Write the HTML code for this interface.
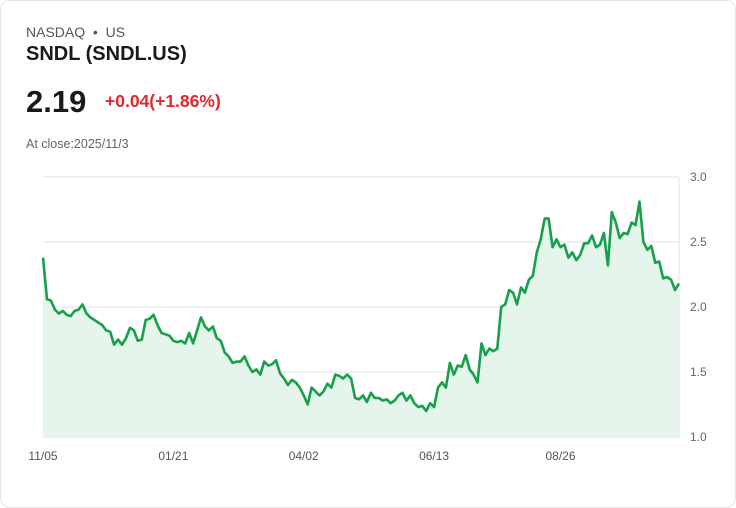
<!DOCTYPE html>
<html><head><meta charset="utf-8">
<style>
body{margin:0;width:736px;height:508px;background:#fff;font-family:"Liberation Sans",sans-serif;overflow:hidden}
.card{position:absolute;left:0;top:0;width:734px;height:506px;border:1px solid #e3e6ea;border-radius:10px;background:#fff}
.t{position:absolute;white-space:nowrap}
</style></head><body>
<div class="card">
<div class="t" style="left:25px;top:23px;font-size:14px;color:#555">NASDAQ &nbsp;•&nbsp; US</div>
<div class="t" style="left:25px;top:42px;font-size:20px;font-weight:bold;color:#1a1a1a">SNDL (SNDL.US)</div>
<div class="t" style="left:25px;top:83px;font-size:31px;font-weight:bold;color:#1a1a1a">2.19</div>
<div class="t" style="left:104px;top:90px;font-size:17.5px;font-weight:bold;color:#e0282e">+0.04(+1.86%)</div>
<div class="t" style="left:25px;top:136px;font-size:12.5px;color:#666">At close:2025/11/3</div>
<svg id="chart" width="736" height="508" style="position:absolute;left:-1px;top:-1px"></svg>
</div>
<script>
const values=[2.38,2.06,2.05,1.98,1.95,1.97,1.94,1.93,1.97,1.98,2.02,1.95,1.92,1.90,1.88,1.86,1.82,1.81,1.71,1.75,1.71,1.76,1.84,1.82,1.74,1.75,1.90,1.91,1.94,1.86,1.80,1.79,1.78,1.74,1.73,1.74,1.72,1.80,1.72,1.82,1.92,1.85,1.82,1.85,1.76,1.74,1.65,1.62,1.57,1.58,1.58,1.62,1.55,1.50,1.52,1.48,1.58,1.55,1.56,1.59,1.49,1.45,1.40,1.44,1.42,1.38,1.32,1.25,1.38,1.35,1.32,1.35,1.41,1.38,1.48,1.47,1.45,1.48,
1.45,1.30,1.29,1.32,1.27,1.34,1.30,1.30,1.28,1.29,1.26,1.28,1.32,1.34,1.28,1.32,1.26,1.23,1.24,1.20,1.26,1.23,1.38,1.42,1.38,1.57,1.48,1.55,1.54,1.63,1.52,1.48,1.42,1.72,1.63,1.68,1.66,1.68,2.00,2.02,2.13,2.11,2.02,2.15,2.11,2.21,2.24,2.42,2.52,2.68,2.68,2.46,2.52,2.46,2.48,2.38,2.42,2.36,2.40,2.49,2.49,2.55,2.46,2.48,2.57,2.32,2.73,2.65,2.53,2.57,2.56,2.65,2.63,2.81,2.50,2.44,2.47,2.34,2.35,2.22,2.23,2.21,2.13,2.18];
const yTicks=[1.0,1.5,2.0,2.5,3.0];
const xLabels=["11/05","01/21","04/02","06/13","08/26"];
const xLabelIdx=[0,33,66,99,131];
const NS="http://www.w3.org/2000/svg";
const svg=document.getElementById('chart');
const L=43,R=679,T=177,B=437,ymin=1,ymax=3;
const xs=i=>L+i*(R-L)/(values.length-1);
const ys=v=>B-(v-ymin)/(ymax-ymin)*(B-T);
function mk(t,a){const e=document.createElementNS(NS,t);for(const k in a)e.setAttribute(k,a[k]);svg.appendChild(e);return e;}
yTicks.forEach(v=>{
 const g=mk('line',{x1:L,x2:R,y1:ys(v),y2:ys(v),stroke:'#e2e2e2','stroke-width':1});
 
 
 const t=mk('text',{x:690,y:ys(v)+4,'font-size':12,fill:'#666','font-family':'Liberation Sans, sans-serif'});
 t.textContent=v.toFixed(1);
 
 
});
const ax=mk('line',{x1:R,x2:R,y1:T,y2:B,stroke:'#e2e2e2'});


let d=values.map((v,i)=>(i?'L':'M')+xs(i).toFixed(1)+','+ys(v).toFixed(1)).join(' ');
const area=mk('path',{d:d+` L${R},${B} L${L},${B} Z`,fill:'#e6f5ec'});


const line=mk('path',{d:d,fill:'none',stroke:'#16a04a','stroke-width':2.6,'stroke-linejoin':'round'});


xLabels.forEach((s,k)=>{
 const t=mk('text',{x:xs(xLabelIdx[k]),y:460,'font-size':12,fill:'#555','text-anchor':'middle','font-family':'Liberation Sans, sans-serif'});
 t.textContent=s;
 
 
});
</script>
</body></html>
